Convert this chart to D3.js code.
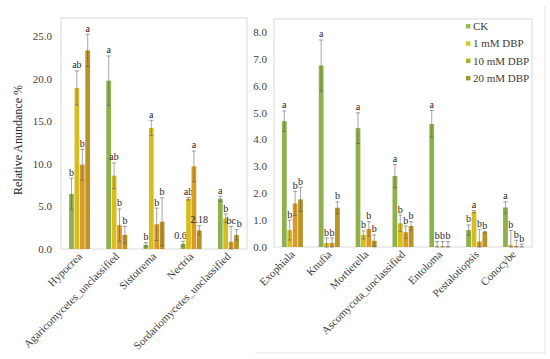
<!DOCTYPE html>
<html>
<head>
<meta charset="utf-8">
<script src="https://cdn.jsdelivr.net/npm/d3@7"></script>
<style>
  body { margin: 0; background: #fff; }
  svg { font-family: "Liberation Serif", "Times New Roman", serif; }
</style>
</head>
<body>
<script>
// ---- data ------------------------------------------------------------------
const series = ["CK", "1 mM DBP", "10 mM DBP", "20 mM DBP"]

const leftGenera = ["Hypocrea", "Agaricomycetes_unclassified", "Sistotrema", "Nectria", "Sordariomycetes_unclassified"]
const leftValues = [
    [6.45, 18.9, 9.9, 23.3],
    [19.75, 8.6, 2.8, 1.65],
    [0.5, 14.2, 2.9, 3.2],
    [0.61, 5.9, 9.7, 2.18],
    [5.9, 3.6, 0.85, 1.65]
]
const leftErrors = [
    [1.85, 2.0, 1.8, 1.9],
    [2.9, 1.5, 1.9, 1.0],
    [0.25, 0.9, 1.9, 2.8],
    [0.3, 0.15, 1.8, 0.55],
    [0.3, 0.5, 1.8, 0.6]
]
const leftLetters = [
    ["b", "ab", "b", "a"],
    ["a", "ab", "b", "b"],
    ["b", "a", "b", "b"],
    ["0.61", "ab", "a", "2.18"],
    ["a", "b", "bc", "b"]
]
const leftTicks = [0, 5, 10, 15, 20, 25]

const rightGenera = ["Exophiala", "Knufia", "Mortierella", "Ascomycota_unclassified", "Entoloma", "Pestalotiopsis", "Conocybe"]
const rightValues = [
    [4.68, 0.63, 1.62, 1.77],
    [6.75, 0.15, 0.15, 1.46],
    [4.42, 0.45, 0.67, 0.23],
    [2.64, 0.88, 0.55, 0.78],
    [4.58, 0.02, 0.02, 0.02],
    [0.63, 1.31, 0.2, 0.55],
    [1.47, 0.07, 0.03, 0.01]
]
const rightErrors = [
    [0.38, 0.37, 0.45, 0.45],
    [0.95, 0.18, 0.18, 0.22],
    [0.57, 0.15, 0.27, 0.22],
    [0.43, 0.31, 0.23, 0.16],
    [0.5, 0.18, 0.18, 0.18],
    [0.19, 0.04, 0.46, 0.03],
    [0.21, 0.55, 0.22, 0.1]
]
const rightLetters = [
    ["a", "b", "b", "b"],
    ["a", "b", "b", "b"],
    ["a", "b", "b", "b"],
    ["a", "b", "b", "b"],
    ["a", "b", "b", "b"],
    ["b", "a", "b", "b"],
    ["a", "b", "b", "b"]
]
const rightTicks = [0, 1, 2, 3, 4, 5, 6, 7, 8]

const barColors = ["#8fb04a", "#d8bd20", "#d99a26", "#ba9424"]
const legendColors = ["#9bbb59", "#c9cc2e", "#aab324", "#999a2a"]

//------------------------------------------------------------------------------

const svg = d3.select("body")
    .append("svg")
    .attr("width", 550)
    .attr("height", 359)

// outer border of the right chart
svg.append("line").attr("x1", 545).attr("x2", 545).attr("y1", 6).attr("y2", 353)
    .attr("stroke", "#e4e4e4")
svg.append("line").attr("x1", 255).attr("x2", 545).attr("y1", 353).attr("y2", 353)
    .attr("stroke", "#e4e4e4")

function overlaps(a, b) {
    return a.x < b.x + b.width && b.x < a.x + a.width &&
        a.y < b.y + b.height && b.y < a.y + a.height
}

function drawPanel(opts) {
    const { genera, values, errors, letters, ticks, x0, x1, y0, y1, yMax, tickX } = opts

    const x = d3.scaleBand().domain(genera).range([x0, x1])
    const xInner = d3.scaleBand().domain(series).range([0, 21]).paddingInner(0.12)
    const y = d3.scaleLinear().domain([0, yMax]).range([y0, y1])

    // plot frame
    svg.append("rect")
        .attr("x", x0).attr("y", y1)
        .attr("width", x1 - x0).attr("height", y0 - y1)
        .attr("fill", "none")
        .attr("stroke", "#d9d9d9")

    // y axis labels
    const yAxis = svg.append("g")
        .attr("transform", "translate(" + tickX + ",0)")
        .call(d3.axisLeft(y).tickValues(ticks).tickFormat(d3.format(".1f")).tickSize(0))
    yAxis.select(".domain").remove()
    yAxis.selectAll("text")
        .attr("font-size", 11)
        .attr("fill", "#404040")
        .attr("font-family", "Liberation Serif, serif")
        .attr("x", 0)

    genera.forEach((g, i) => {
        const cx = x(g) + x.bandwidth() / 2
        const gx = cx - 10.5
        const grp = svg.append("g")
        let prevLabel = null

        series.forEach((s, j) => {
            const v = values[i][j]
            const e = errors[i][j]
            const bx = gx + xInner(s)
            const bw = xInner.bandwidth()
            grp.append("rect")
                .attr("x", bx)
                .attr("y", y(v))
                .attr("width", bw)
                .attr("height", y(0) - y(v))
                .attr("fill", barColors[j])

            const mx = bx + bw / 2
            const lo = Math.max(0, v - e)
            grp.append("line")
                .attr("x1", mx).attr("x2", mx)
                .attr("y1", y(lo)).attr("y2", y(v + e))
                .attr("stroke", "#5c5c5c").attr("stroke-opacity", 0.55)
            grp.append("line")
                .attr("x1", mx - 2).attr("x2", mx + 2)
                .attr("y1", y(v + e)).attr("y2", y(v + e))
                .attr("stroke", "#5c5c5c").attr("stroke-opacity", 0.6)
            grp.append("line")
                .attr("x1", mx - 2).attr("x2", mx + 2)
                .attr("y1", y(lo)).attr("y2", y(lo))
                .attr("stroke", "#5c5c5c").attr("stroke-opacity", 0.6)

            const label = grp.append("text")
                .attr("x", mx)
                .attr("y", y(v + e) - 2.5)
                .attr("text-anchor", "middle")
                .attr("font-size", 10)
                .attr("fill", "#262626")
                .text(letters[i][j])

            // nudge a label to the right when it runs into its neighbour
            if (prevLabel) {
                const a = prevLabel.node().getBBox()
                const b = label.node().getBBox()
                if (overlaps(a, b)) {
                    label.attr("x", mx + (a.x + a.width - b.x) + 0.3)
                }
            }
            prevLabel = label
        })

        // category label
        svg.append("text")
            .attr("transform", "translate(" + (cx + 3) + "," + (y0 + 8) + ") rotate(-45)")
            .attr("text-anchor", "end")
            .attr("font-size", 11)
            .attr("fill", "#404040")
            .text(g)
    })
}

drawPanel({
    genera: leftGenera, values: leftValues, errors: leftErrors, letters: leftLetters,
    ticks: leftTicks, x0: 61, x1: 247, y0: 249, y1: 18, yMax: 27.1, tickX: 52
})

drawPanel({
    genera: rightGenera, values: rightValues, errors: rightErrors, letters: rightLetters,
    ticks: rightTicks, x0: 274, x1: 532, y0: 247, y1: 19, yMax: 8.48, tickX: 267
})

// y label
svg.append("text")
    .attr("transform", "translate(22,140) rotate(-90)")
    .attr("text-anchor", "middle")
    .attr("font-size", 12)
    .attr("fill", "#262626")
    .text("Relative Anundance %")

// legend
const legend = svg.append("g").attr("transform", "translate(466,28)")
series.forEach((s, i) => {
    legend.append("rect")
        .attr("x", 0).attr("y", i * 17.3 - 4)
        .attr("width", 4.5).attr("height", 4.5)
        .attr("fill", legendColors[i])
    legend.append("text")
        .attr("x", 7).attr("y", i * 17.3 + 2)
        .attr("font-size", 11)
        .attr("fill", "#404040")
        .text(s)
})
</script>
</body>
</html>
